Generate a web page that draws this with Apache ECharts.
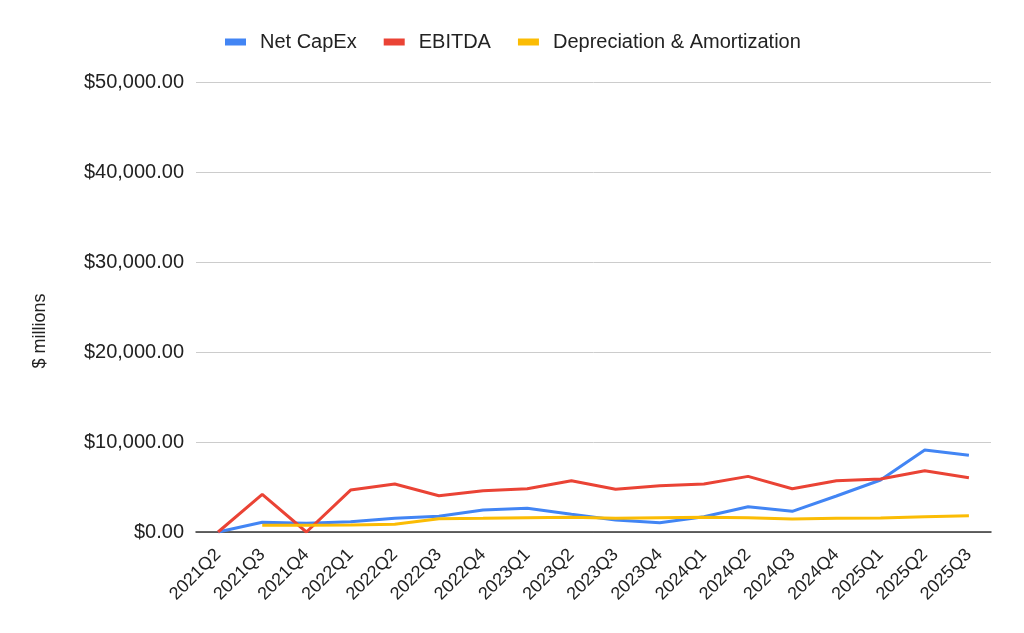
<!DOCTYPE html>
<html><head><meta charset="utf-8">
<script src="https://cdn.jsdelivr.net/npm/echarts@6/dist/echarts.min.js"></script>
<style>html,body{margin:0;padding:0;background:#fff}#c{width:1024px;height:633px}</style>
</head><body><div id="c"></div>
<script>
const categories = ['2021Q2','2021Q3','2021Q4','2022Q1','2022Q2','2022Q3','2022Q4','2023Q1','2023Q2','2023Q3','2023Q4','2024Q1','2024Q2','2024Q3','2024Q4','2025Q1','2025Q2','2025Q3'];
const netCapEx = [0,1075,965,1150,1520,1740,2440,2630,1960,1330,1035,1700,2810,2300,4000,5780,9110,8520];
const ebitda = [0,4180,0,4660,5330,4030,4590,4810,5700,4740,5150,5330,6180,4810,5700,5890,6810,6030];
const depAmort = [null,740,740,780,850,1480,1520,1590,1630,1520,1590,1630,1590,1440,1520,1560,1700,1810];
const seriesNames = ['Net CapEx','EBITDA','Depreciation & Amortization'];
const yAxisTitle = '$ millions';
const colors = ['#4285F4','#EA4335','#FBBC04'];

const FONT = 'Liberation Sans, Arial, sans-serif';
const chart = echarts.init(document.getElementById('c'));
const fmt = v => '$' + v.toLocaleString('en-US',{minimumFractionDigits:2,maximumFractionDigits:2});
const mk = (name, data, color) => ({
  name, type:'line', data, symbol:'none', smooth:false,
  lineStyle:{width:3,color}, itemStyle:{color}, connectNulls:false
});
chart.setOption({
  animation:false,
  textStyle:{fontFamily:FONT},
  legend:{
    top:27, left:220, itemWidth:21, itemHeight:7, itemGap:27,
    icon:'rect',
    textStyle:{fontSize:20,color:'#222',fontFamily:FONT,padding:[0,0,0,9]},
    data:seriesNames
  },
  graphic:[{
    type:'text', x:40, y:331, rotation:Math.PI/2,
    style:{text:yAxisTitle, align:'center', verticalAlign:'middle', font:'18px ' + FONT, fill:'#222'}
  }],
  grid:{left:196,right:33,top:82,bottom:101},
  xAxis:{
    type:'category', data:categories, boundaryGap:true,
    axisLine:{lineStyle:{color:'#333',width:1.5}},
    axisTick:{show:false},
    axisLabel:{rotate:45,fontSize:18,color:'#222',margin:20,interval:0}
  },
  yAxis:{
    type:'value', min:0, max:50000, interval:10000,
    axisLine:{show:false}, axisTick:{show:false},
    splitLine:{lineStyle:{color:'#cccccc',width:1}},
    axisLabel:{fontSize:20,color:'#222',margin:12,formatter:fmt}
  },
  series:[
    mk(seriesNames[0], netCapEx, colors[0]),
    mk(seriesNames[1], ebitda, colors[1]),
    mk(seriesNames[2], depAmort, colors[2])
  ]
});
</script></body></html>
